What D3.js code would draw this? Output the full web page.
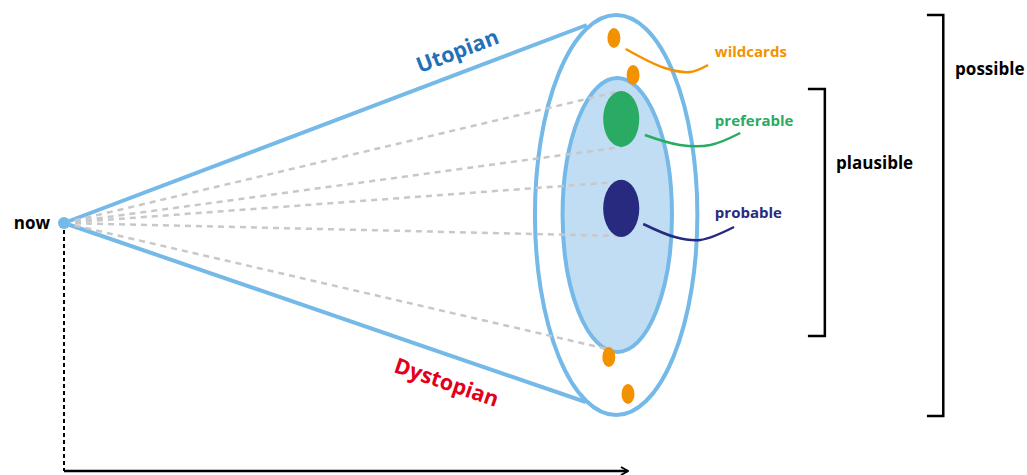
<!DOCTYPE html>
<html>
<head>
<meta charset="utf-8">
<script src="https://cdn.jsdelivr.net/npm/d3@7"></script>
<style>
  body { margin: 0; background: #fff; }
  text { font-family: "Open Sans", "Noto Sans", sans-serif; font-weight: bold; }
</style>
</head>
<body>
<div id="cone"></div>
<script>
// time runs 0 (now) -> 100 (horizon), outcome runs -100 (dystopian) -> 100 (utopian)
var nowPoint = [0, -4];
var coneEnds = [[92.7, 95], [92.5, -93.5]];
var coneNames = ["Utopian", "Dystopian"];
var coneColors = ["#1f71b8", "#e3001b"];

// ellipses: [cx, cy, rx, ry]
var possibleCone = [97.9, 0, 14.4, 100];
var plausibleCone = [98.1, 0, 9.7, 68.5];

var futures = ["preferable", "probable"];
var futureShapes = [[98.8, 48, 3.2, 14], [98.8, 3.3, 3.2, 14.3]];
var futureColors = ["#2aab64", "#282a80"];

var wildcards = [[97.5, 88.5], [100.9, 70], [96.6, -71], [100, -89.5]];

var rays = [[98.6, 62], [98.9, 34], [98, 16.5], [98.6, -10.5], [96.3, -67]];

var leaderNames = ["wildcards", "preferable", "probable"];
var leaderColors = ["#f39200", "#2aab64", "#282a80"];
var leaders = [
  [[99.6, 83], [106.5, 73.5], [111, 71.5], [114.2, 75]],
  [[103, 40], [109.2, 35], [114.6, 35], [119.9, 41]],
  [[102.7, -4.5], [108.3, -11], [112.8, -12.5], [118.8, -6]]
];
var leaderLabels = [[115.4, 79], [115.4, 44.5], [115.4, -1.5]];

var brackets = ["plausible", "possible"];
var bracketX = [134.9, 155.9];
var bracketArm = [3, 2.9];
var bracketRange = [[63, -60.5], [100, -100.5]];
var bracketLabels = [[136.9, 23], [158, 70]];

var axisBottom = -128;

var width = 1027, height = 475;

var svg = d3.select("#cone")
  .append("svg")
    .attr("width", width)
    .attr("height", height);

var x = d3.scaleLinear().domain([0, 100]).range([64, 628]);
var y = d3.scaleLinear().domain([-100, 100]).range([415, 15]);

var blue = "#74b9e7";

// arrow head
svg.append("defs").append("marker")
    .attr("id", "arrow")
    .attr("viewBox", "0 0 10 10")
    .attr("refX", 9).attr("refY", 5)
    .attr("markerWidth", 10).attr("markerHeight", 10)
    .attr("markerUnits", "userSpaceOnUse")
    .attr("orient", "auto")
  .append("path")
    .attr("d", "M2,1 L9,5 L2,9")
    .attr("fill", "none")
    .attr("stroke", "#000")
    .attr("stroke-width", 2);

// time axis
svg.append("line")
    .attr("x1", x(nowPoint[0])).attr("y1", y(nowPoint[1]))
    .attr("x2", x(nowPoint[0])).attr("y2", y(axisBottom))
    .attr("stroke", "#000")
    .attr("stroke-width", 2)
    .attr("stroke-dasharray", "4,3");
svg.append("line")
    .attr("x1", x(0)).attr("y1", y(axisBottom))
    .attr("x2", x(100)).attr("y2", y(axisBottom))
    .attr("stroke", "#000")
    .attr("stroke-width", 2.5)
    .attr("marker-end", "url(#arrow)");

// cone edges
svg.selectAll(".edge")
  .data(coneEnds)
  .enter()
  .append("line")
    .attr("class", "edge")
    .attr("x1", x(nowPoint[0])).attr("y1", y(nowPoint[1]))
    .attr("x2", function(d) { return x(d[0]); })
    .attr("y2", function(d) { return y(d[1]); })
    .attr("stroke", blue)
    .attr("stroke-width", 4);

function ellipse(sel, e) {
  return sel.append("ellipse")
    .attr("cx", x(e[0])).attr("cy", y(e[1]))
    .attr("rx", x(e[2]) - x(0)).attr("ry", y(0) - y(e[3]));
}

ellipse(svg, possibleCone)
    .attr("fill", "none")
    .attr("stroke", blue)
    .attr("stroke-width", 4);
ellipse(svg, plausibleCone)
    .attr("fill", "#c1ddf3")
    .attr("stroke", blue)
    .attr("stroke-width", 4);

// rays from now
svg.selectAll(".ray")
  .data(rays)
  .enter()
  .append("line")
    .attr("class", "ray")
    .attr("x1", x(nowPoint[0])).attr("y1", y(nowPoint[1]))
    .attr("x2", function(d) { return x(d[0]); })
    .attr("y2", function(d) { return y(d[1]); })
    .attr("stroke", "#c8c8c8")
    .attr("stroke-width", 2.5)
    .attr("stroke-dasharray", "6,5");

futureShapes.forEach(function(e, i) {
  ellipse(svg, e).attr("fill", futureColors[i]);
});

svg.selectAll(".wild")
  .data(wildcards)
  .enter()
  .append("ellipse")
    .attr("class", "wild")
    .attr("cx", function(d) { return x(d[0]); })
    .attr("cy", function(d) { return y(d[1]); })
    .attr("rx", x(1.15) - x(0))
    .attr("ry", y(0) - y(5))
    .attr("fill", "#f39200");

// leader curves and labels
var leaderLine = d3.line()
    .x(function(d) { return x(d[0]); })
    .y(function(d) { return y(d[1]); })
    .curve(d3.curveCatmullRom);

leaders.forEach(function(pts, i) {
  svg.append("path")
      .attr("d", leaderLine(pts))
      .attr("fill", "none")
      .attr("stroke", leaderColors[i])
      .attr("stroke-width", 2.5);
  svg.append("text")
      .attr("x", x(leaderLabels[i][0]))
      .attr("y", y(leaderLabels[i][1]))
      .attr("fill", leaderColors[i])
      .style("font-size", "15px")
      .text(leaderNames[i]);
});

// now point
svg.append("circle")
    .attr("cx", x(nowPoint[0])).attr("cy", y(nowPoint[1]))
    .attr("r", 6)
    .attr("fill", blue);
svg.append("text")
    .attr("x", x(nowPoint[0]) - 14)
    .attr("y", y(nowPoint[1]) + 6)
    .attr("text-anchor", "end")
    .style("font-size", "17px")
    .text("now");

// utopian / dystopian labels along the edges
coneEnds.forEach(function(d, i) {
  var x0 = x(nowPoint[0]), y0 = y(nowPoint[1]);
  var x1 = x(d[0]), y1 = y(d[1]);
  var t = i == 0 ? 0.767 : 0.75;
  var px = x0 + (x1 - x0) * t, py = y0 + (y1 - y0) * t;
  var ang = Math.atan2(y1 - y0, x1 - x0) * 180 / Math.PI;
  svg.append("text")
      .attr("transform", "translate(" + px + "," + py + ") rotate(" + ang + ")")
      .attr("text-anchor", "middle")
      .attr("dy", i == 0 ? -14 : 34)
      .attr("fill", coneColors[i])
      .style("font-size", "21.5px")
      .text(coneNames[i]);
});

// brackets
brackets.forEach(function(name, i) {
  var bx = x(bracketX[i]), bl = x(bracketX[i] - bracketArm[i]);
  var yt = y(bracketRange[i][0]), yb = y(bracketRange[i][1]);
  svg.append("path")
      .attr("d", "M" + bl + "," + yt + "H" + bx + "V" + yb + "H" + bl)
      .attr("fill", "none")
      .attr("stroke", "#000")
      .attr("stroke-width", 2.5);
  svg.append("text")
      .attr("x", x(bracketLabels[i][0]))
      .attr("y", y(bracketLabels[i][1]))
      .style("font-size", "17px")
      .text(name);
});
</script>
</body>
</html>
